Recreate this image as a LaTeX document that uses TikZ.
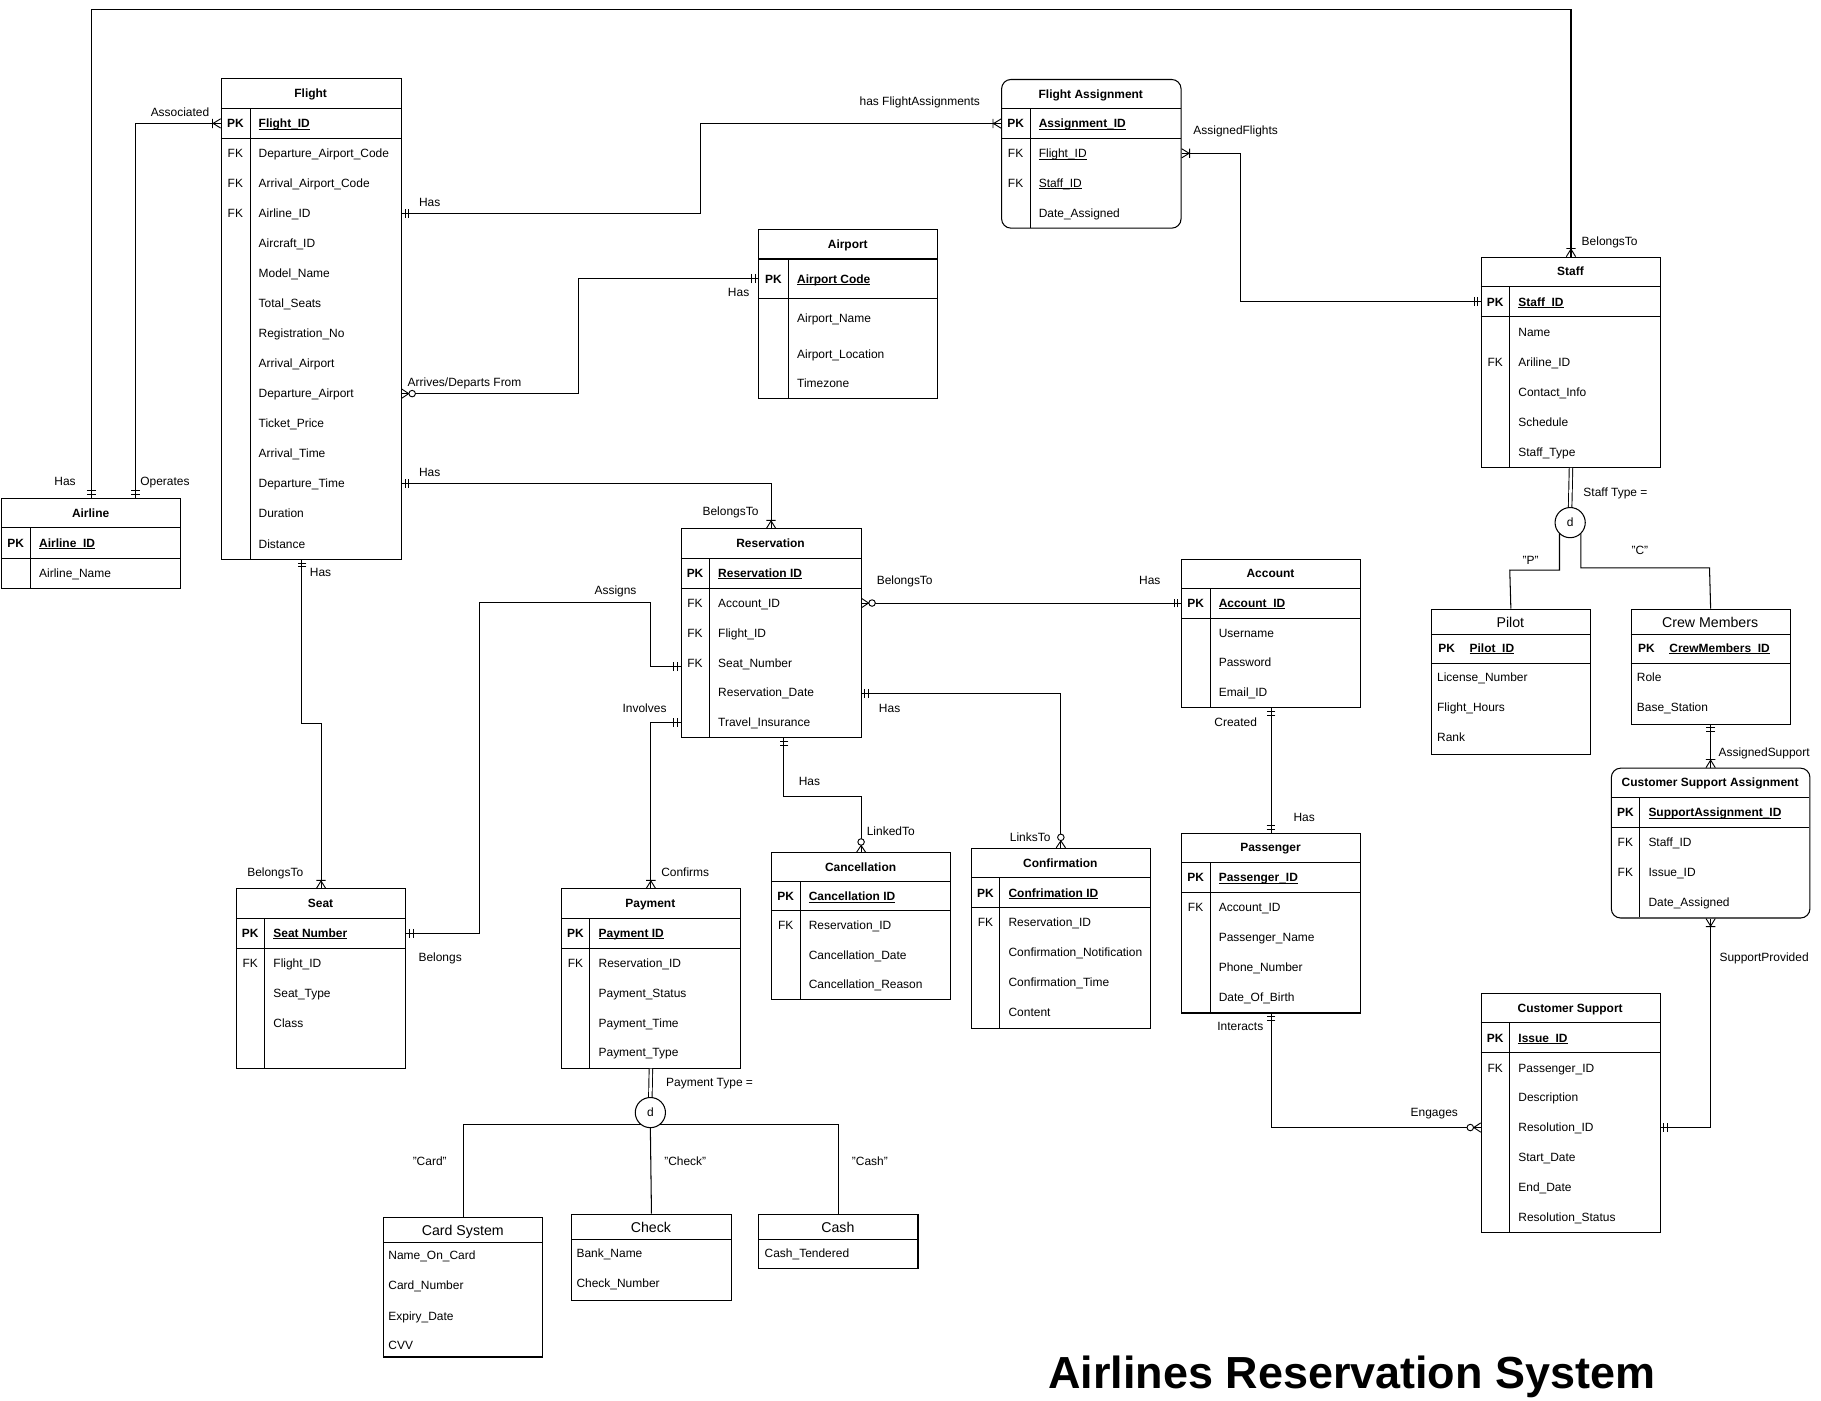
\documentclass[tikz,border=0pt]{standalone}
\usepackage{fontspec}
\setmainfont{Liberation Sans}
\newcommand\fs{\fontsize{10.3}{12}\selectfont}
\newcommand\undl[1]{\setbox0\hbox{#1}\rlap{\rule[-1.5pt]{\wd0}{0.7pt}}\box0}
\newcommand\setent[5]{\def\entX{#1}\def\entY{#2}\def\entW{#3}\def\entR{#4}\def\entK{#5}}
\tikzset{
  hdr/.style={font=\fs\bfseries, inner sep=0pt, text height=7.4pt, text depth=0pt},
  hdrl/.style={font=\fontsize{12.2}{14}\selectfont, inner sep=0pt, text height=8.8pt, text depth=0pt},
  keyt/.style={font=\fs, inner sep=0pt, text height=7.4pt, text depth=0pt},
  attrt/.style={font=\fs, inner sep=0pt, anchor=west, text height=7.4pt, text depth=0pt},
  lbl/.style={font=\fs, inner sep=0pt, text height=7.4pt, text depth=0pt},
  mand/.pic={\draw[line width=0.8pt] (2.8,-3.8) -- (2.8,3.8) (5.8,-3.8) -- (5.8,3.8);},
  onemany/.pic={\draw[line width=0.8pt] (0,-4) -- (6.5,0) -- (0,4) (7,-4) -- (7,4);},
  zeromany/.pic={\draw[line width=0.8pt] (0,-4) -- (6,0) -- (0,4); \draw[line width=0.8pt, fill=white] (9,0) circle (2.8);},
}
\newcommand\entbox[4][]{%
  \pgfmathsetmacro\entH{#3*\entR}%
  \node[draw, anchor=north west, minimum width=\entW pt, minimum height=\entH pt, inner sep=0pt, #1] (#2) at (\entX,\entY) {};
  \draw (\entX,\entY+\entR) -- ++(\entW,0)
        (\entX,\entY+2*\entR) -- ++(\entW,0)
        (\entX+\entK,\entY+\entR) -- (\entX+\entK,\entY+\entH);
  \node[hdr] (#2-t) at (\entX+\entW/2,\entY+\entR/2) {#4};
}
\newcommand\erow[4]{%
  \pgfmathsetmacro\rowY{\entY+(#2+0.5)*\entR}%
  \node[keyt] (#1k) at (\entX+\entK/2,\rowY) {#3};
  \node[attrt] (#1) at (\entX+\entK+7,\rowY) {#4};
}
\newcommand\subent[6]{%
  \node[draw, anchor=north west, minimum width=#4pt, minimum height=#5pt, inner sep=0pt] (#1) at (#2,#3) {};
  \draw (#2,#3+22) -- ++(#4,0);
  \node[hdrl] (#1-t) at (#2+#4/2,#3+11.5) {#6};
}
\begin{document}
\begin{tikzpicture}[x=1pt,y=-1pt,line width=0.9pt]
\fill[white] (0,0) rectangle (1568,1206);
\useasboundingbox (0,0) rectangle (1568,1206);

% ---------- Airline
\setent{0.8}{428.5}{154.5}{26}{25.5}
\entbox{airline}{3}{Airline}
\erow{al-pk}{1}{\textbf{PK}}{\textbf{\undl{Airline\_ID}}}
\erow{al-name}{2}{}{Airline\_Name}

% ---------- Flight
\setent{190}{67.5}{155}{25.85}{25.3}
\entbox{flight}{16}{Flight}
\erow{fl-pk}{1}{\textbf{PK}}{\textbf{\undl{Flight\_ID}}}
\erow{fl-dac}{2}{FK}{Departure\_Airport\_Code}
\erow{fl-aac}{3}{FK}{Arrival\_Airport\_Code}
\erow{fl-airline}{4}{FK}{Airline\_ID}
\erow{fl-acid}{5}{}{Aircraft\_ID}
\erow{fl-model}{6}{}{Model\_Name}
\erow{fl-seats}{7}{}{Total\_Seats}
\erow{fl-reg}{8}{}{Registration\_No}
\erow{fl-aair}{9}{}{Arrival\_Airport}
\erow{fl-dair}{10}{}{Departure\_Airport}
\erow{fl-price}{11}{}{Ticket\_Price}
\erow{fl-atime}{12}{}{Arrival\_Time}
\erow{fl-dtime}{13}{}{Departure\_Time}
\erow{fl-dur}{14}{}{Duration}
\erow{fl-dist}{15}{}{Distance}

% ---------- Flight Assignment
\setent{862}{68}{154.5}{25.6}{25}
\entbox[rounded corners=8pt]{fa}{5}{Flight Assignment}
\erow{fa-pk}{1}{\textbf{PK}}{\textbf{\undl{Assignment\_ID}}}
\erow{fa-fid}{2}{FK}{\undl{Flight\_ID}}
\erow{fa-sid}{3}{FK}{\undl{Staff\_ID}}
\erow{fa-date}{4}{}{Date\_Assigned}

% ---------- Airport
\node[draw, anchor=north west, minimum width=154pt, minimum height=146pt, inner sep=0pt] (airport) at (653,197) {};
\draw (653,223) -- ++(154,0) (653,257) -- ++(154,0) (679,223) -- (679,343);
\node[hdr] (airport-t) at (730,210) {Airport};
\node[keyt] (ap-pkk) at (666,240) {\textbf{PK}};
\node[attrt] (ap-pk) at (686,240) {\textbf{\undl{Airport Code}}};
\node[attrt] (ap-name) at (686,274) {Airport\_Name};
\node[attrt] (ap-loc) at (686,305) {Airport\_Location};
\node[attrt] (ap-tz) at (686,330) {Timezone};

% ---------- Staff
\setent{1275}{221}{154.5}{25.86}{25}
\entbox{staff}{7}{Staff}
\erow{st-pk}{1}{\textbf{PK}}{\textbf{\undl{Staff\_ID}}}
\erow{st-name}{2}{}{Name}
\erow{st-air}{3}{FK}{Ariline\_ID}
\erow{st-cont}{4}{}{Contact\_Info}
\erow{st-sch}{5}{}{Schedule}
\erow{st-type}{6}{}{Staff\_Type}

% ---------- Pilot / Crew
\subent{pilot}{1232}{524}{137}{125}{Pilot}
\draw (1232,571) -- ++(137,0);
\node[attrt] (pi-pkk) at (1238,558) {\textbf{PK}};
\node[attrt] (pi-pk) at (1265,558) {\textbf{\undl{Pilot\_ID}}};
\node[attrt] (pi-lic) at (1237,583) {License\_Number};
\node[attrt] (pi-hrs) at (1237,609) {Flight\_Hours};
\node[attrt] (pi-rank) at (1237,635) {Rank};

\subent{crew}{1404}{524}{137}{99}{Crew Members}
\draw (1404,571) -- ++(137,0);
\node[attrt] (cr-pkk) at (1410,558) {\textbf{PK}};
\node[attrt] (cr-pk) at (1437,558) {\textbf{\undl{CrewMembers\_ID}}};
\node[attrt] (cr-role) at (1409,583) {Role};
\node[attrt] (cr-base) at (1409,609) {Base\_Station};

% ---------- Customer Support Assignment
\setent{1387}{661}{171}{25.8}{25}
\entbox[rounded corners=8pt]{csa}{5}{Customer Support Assignment}
\erow{csa-pk}{1}{\textbf{PK}}{\textbf{\undl{SupportAssignment\_ID}}}
\erow{csa-sid}{2}{FK}{Staff\_ID}
\erow{csa-iid}{3}{FK}{Issue\_ID}
\erow{csa-date}{4}{}{Date\_Assigned}

% ---------- Customer Support
\setent{1275}{855}{154}{25.75}{25}
\entbox{cs}{8}{Customer Support}
\erow{cs-pk}{1}{\textbf{PK}}{\textbf{\undl{Issue\_ID}}}
\erow{cs-pid}{2}{FK}{Passenger\_ID}
\erow{cs-desc}{3}{}{Description}
\erow{cs-res}{4}{}{Resolution\_ID}
\erow{cs-start}{5}{}{Start\_Date}
\erow{cs-end}{6}{}{End\_Date}
\erow{cs-stat}{7}{}{Resolution\_Status}

% ---------- Reservation
\setent{586}{455}{155}{25.7}{25}
\entbox{reservation}{7}{Reservation}
\erow{rs-pk}{1}{\textbf{PK}}{\textbf{\undl{Reservation ID}}}
\erow{rs-acc}{2}{FK}{Account\_ID}
\erow{rs-fid}{3}{FK}{Flight\_ID}
\erow{rs-seat}{4}{FK}{Seat\_Number}
\erow{rs-date}{5}{}{Reservation\_Date}
\erow{rs-ins}{6}{}{Travel\_Insurance}

% ---------- Account
\setent{1017}{481}{154}{25.6}{25}
\entbox{account}{5}{Account}
\erow{ac-pk}{1}{\textbf{PK}}{\textbf{\undl{Account\_ID}}}
\erow{ac-user}{2}{}{Username}
\erow{ac-pass}{3}{}{Password}
\erow{ac-mail}{4}{}{Email\_ID}

% ---------- Passenger
\setent{1017}{717}{154}{25.8}{25}
\entbox{passenger}{6}{Passenger}
\erow{pa-pk}{1}{\textbf{PK}}{\textbf{\undl{Passenger\_ID}}}
\erow{pa-acc}{2}{FK}{Account\_ID}
\erow{pa-name}{3}{}{Passenger\_Name}
\erow{pa-phone}{4}{}{Phone\_Number}
\erow{pa-dob}{5}{}{Date\_Of\_Birth}

% ---------- Seat
\setent{203}{765}{146}{25.7}{25}
\entbox{seat}{6}{Seat}
\erow{se-pk}{1}{\textbf{PK}}{\textbf{\undl{Seat Number}}}
\erow{se-fid}{2}{FK}{Flight\_ID}
\erow{se-type}{3}{}{Seat\_Type}
\erow{se-class}{4}{}{Class}

% ---------- Payment
\setent{483}{765}{154}{25.7}{25}
\entbox{payment}{6}{Payment}
\erow{py-pk}{1}{\textbf{PK}}{\textbf{\undl{Payment ID}}}
\erow{py-rid}{2}{FK}{Reservation\_ID}
\erow{py-stat}{3}{}{Payment\_Status}
\erow{py-time}{4}{}{Payment\_Time}
\erow{py-type}{5}{}{Payment\_Type}

% ---------- Cancellation
\setent{664}{734}{154}{25.2}{25}
\entbox{cancel}{5}{Cancellation}
\erow{ca-pk}{1}{\textbf{PK}}{\textbf{\undl{Cancellation ID}}}
\erow{ca-rid}{2}{FK}{Reservation\_ID}
\erow{ca-date}{3}{}{Cancellation\_Date}
\erow{ca-reason}{4}{}{Cancellation\_Reason}

% ---------- Confirmation
\setent{836}{730}{154}{25.8}{25}
\entbox{conf}{6}{Confirmation}
\erow{co-pk}{1}{\textbf{PK}}{\textbf{\undl{Confrimation ID}}}
\erow{co-rid}{2}{FK}{Reservation\_ID}
\erow{co-note}{3}{}{Confirmation\_Notification}
\erow{co-time}{4}{}{Confirmation\_Time}
\erow{co-cont}{5}{}{Content}

% ---------- Payment subtypes
\subent{card}{330}{1048}{137}{120}{Card System}
\node[attrt] (cd-name) at (334,1081) {Name\_On\_Card};
\node[attrt] (cd-num) at (334,1107) {Card\_Number};
\node[attrt] (cd-exp) at (334,1133) {Expiry\_Date};
\node[attrt] (cd-cvv) at (334,1158) {CVV};
\subent{check}{492}{1045}{137}{74}{Check}
\node[attrt] (ch-bank) at (496,1079) {Bank\_Name};
\node[attrt] (ch-num) at (496,1105) {Check\_Number};
\subent{cash}{653}{1045}{137}{47}{Cash}
\node[attrt] (cs-tend) at (658,1079) {Cash\_Tendered};

% ---------- waypoints
\coordinate (topy) at (0,8);
\coordinate (c2) at (117,106);
\coordinate (c3) at (603,150);
\coordinate (c4) at (1068,200);
\coordinate (c5) at (498,290);
\coordinate (c7a) at (260,623);
\coordinate (c8a) at (413,519);
\coordinate (c8b) at (560,574);
\coordinate (c9) at (560,622);
\coordinate (c11) at (913,597);
\coordinate (c12a) at (675,686);
\coordinate (pbar) at (560,968);

% ---------- connectors
\draw (airline.north) |- (staff.north |- topy) -- (staff.north);
\draw (airline.north -| c2) |- (flight.west |- fl-pk);
\draw (flight.east |- fl-airline) -| (c3) |- (fa.west |- fa-pk);
\draw (fa.east |- fa-fid) -| (c4) |- (staff.west |- st-pk);
\draw (flight.east |- fl-dair) -| (c5) |- (airport.west |- ap-pk);
\draw (flight.east |- fl-dtime) -| (reservation.north);
\draw (flight.south -| c7a) -- (c7a) -| (seat.north);
\draw (seat.east |- se-pk) -| (c8a) -| (c8b) -- (reservation.west |- c8b);
\draw (reservation.west |- c9) -| (payment.north);
\draw (reservation.east |- rs-acc) -- (account.west |- rs-acc);
\draw (reservation.east |- c11) -| (conf.north);
\draw (reservation.south -| c12a) -- (c12a) -| (cancel.north);
\draw (account.south) -- (passenger.north);
\draw (passenger.south) |- (cs.west |- cs-res);
\draw (cs.east |- cs-res) -| (csa.south);
\draw (crew.south) -- (csa.north);

% ---------- end markers
\pic[rotate=90] at (airline.north) {mand};
\pic[rotate=90] at (staff.north) {onemany};
\pic[rotate=90] at (airline.north -| c2) {mand};
\pic[rotate=180] at (flight.west |- fl-pk) {onemany};
\pic at (flight.east |- fl-airline) {mand};
\pic[rotate=180] at (fa.west |- fa-pk) {onemany};
\pic at (fa.east |- fa-fid) {onemany};
\pic[rotate=180] at (staff.west |- st-pk) {mand};
\pic at (flight.east |- fl-dair) {zeromany};
\pic[rotate=180] at (airport.west |- ap-pk) {mand};
\pic at (flight.east |- fl-dtime) {mand};
\pic[rotate=90] at (reservation.north) {onemany};
\pic[rotate=-90] at (flight.south -| c7a) {mand};
\pic[rotate=90] at (seat.north) {onemany};
\pic at (seat.east |- se-pk) {mand};
\pic[rotate=180] at (reservation.west |- c8b) {mand};
\pic[rotate=180] at (reservation.west |- c9) {mand};
\pic[rotate=90] at (payment.north) {onemany};
\pic at (reservation.east |- rs-acc) {zeromany};
\pic[rotate=180] at (account.west |- rs-acc) {mand};
\pic at (reservation.east |- c11) {mand};
\pic[rotate=90] at (conf.north) {zeromany};
\pic[rotate=-90] at (reservation.south -| c12a) {mand};
\pic[rotate=90] at (cancel.north) {zeromany};
\pic[rotate=-90] at (account.south) {mand};
\pic[rotate=90] at (passenger.north) {mand};
\pic[rotate=-90] at (passenger.south) {mand};
\pic[rotate=180] at (cs.west |- cs-res) {zeromany};
\pic at (cs.east |- cs-res) {mand};
\pic[rotate=-90] at (csa.south) {onemany};
\pic[rotate=-90] at (crew.south) {mand};
\pic[rotate=90] at (csa.north) {onemany};

% ---------- specialisations
\node[circle, draw, fill=white, minimum size=26pt, inner sep=0pt, font=\fs] (dstaff) at (1352,450) {d};
\draw[double, double distance=2.2pt, line width=0.8pt] (staff.south) -- (dstaff.north);
\coordinate (pyl) at (1300,491);
\coordinate (pyr) at (1472,489);
\draw (dstaff.-133) |- (pyl) -- (pilot.north);
\draw (dstaff.-47) |- (pyr) -- (crew.north);

\draw (card.north) |- (pbar) -| (cash.north);
\node[circle, draw, fill=white, minimum size=26pt, inner sep=0pt, font=\fs] (dpay) at (560,958) {d};
\draw[double, double distance=2.2pt, line width=0.8pt] (payment.south) -- (dpay.north);
\draw (dpay.south) -- (check.north);

% ---------- labels
\node[lbl] (l1) at (56,414) {Has};
\node[lbl] (l2) at (142,414) {Operates};
\node[lbl] (l3) at (155,97) {Associated};
\node[lbl] (l4) at (370,174) {Has};
\node[lbl] (l5) at (792,87) {has FlightAssignments};
\node[lbl] (l6) at (1064,112) {AssignedFlights};
\node[lbl] (l7) at (1386,208) {BelongsTo};
\node[lbl] (l8) at (636,252) {Has};
\node[lbl] (l9) at (400,329) {Arrives/Departs From};
\node[lbl] (l10) at (370,407) {Has};
\node[lbl] (l11) at (629,440) {BelongsTo};
\node[lbl] (l12) at (276,493) {Has};
\node[lbl] (l13) at (237,751) {BelongsTo};
\node[lbl] (l14) at (379,824) {Belongs};
\node[lbl] (l15) at (530,508) {Assigns};
\node[lbl] (l16) at (555,610) {Involves};
\node[lbl] (l17) at (590,751) {Confirms};
\node[lbl] (l18) at (779,500) {BelongsTo};
\node[lbl] (l19) at (990,500) {Has};
\node[lbl] (l20) at (766,610) {Has};
\node[lbl] (l21) at (887,721) {LinksTo};
\node[lbl] (l22) at (697,673) {Has};
\node[lbl] (l23) at (767,716) {LinkedTo};
\node[lbl] (l24) at (1064,622) {Created};
\node[lbl] (l25) at (1123,704) {Has};
\node[lbl] (l26) at (1068,884) {Interacts};
\node[lbl] (l27) at (1235,958) {Engages};
\node[lbl] (l28) at (1519,824) {SupportProvided};
\node[lbl] (l29) at (1519,648) {AssignedSupport};
\node[lbl] (l30) at (1391,424) {Staff Type =};
\node[lbl] (l31) at (1318,482) {"P"};
\node[lbl] (l32) at (1412,474) {"C"};
\node[lbl] (l33) at (611,932) {Payment Type =};
\node[lbl] (l34) at (370,1000) {"Card"};
\node[lbl] (l35) at (590,1000) {"Check"};
\node[lbl] (l36) at (749,1000) {"Cash"};

\node[inner sep=0pt, font=\fontsize{38.7}{44}\selectfont\bfseries] (title) at (1164,1186) {Airlines Reservation System};
\end{tikzpicture}
\end{document}
